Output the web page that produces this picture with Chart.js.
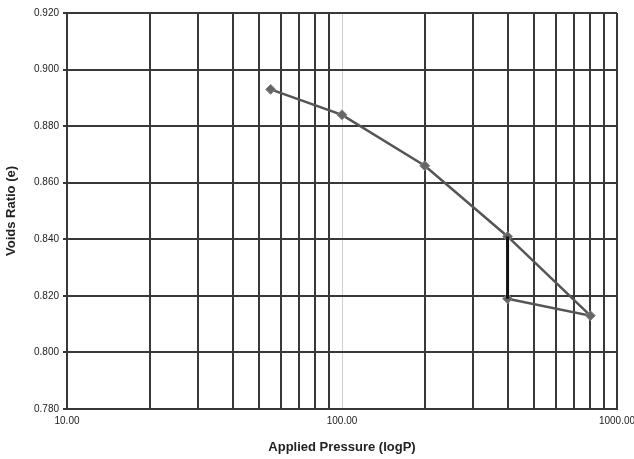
<!DOCTYPE html>
<html>
<head>
<meta charset="utf-8">
<script src="https://cdn.jsdelivr.net/npm/chart.js@4/dist/chart.umd.min.js"></script>
<style>
    html, body { margin: 0; padding: 0; background: #fff; }
    #wrap { width: 634px; height: 459px; }
</style>
</head>
<body>
<div id="wrap"><canvas id="c" width="634" height="459"></canvas></div>
<script>
// consolidation test: pressure (log) vs voids ratio
const pressure = [55, 100, 200, 400, 800, 400];
const voidsRatio = [0.893, 0.884, 0.866, 0.841, 0.813, 0.819];

// vertical step at 400
const stepPressure = [400, 400];
const stepRatio = [0.841, 0.819];

const xGridValues = [10, 20, 30, 40, 50, 60, 70, 80, 90, 100, 200, 300, 400, 500, 600, 700, 800, 900, 1000];
const xLabelValues = [10, 100, 1000];
const yMin = 0.78, yMax = 0.92, yStep = 0.02;

const mainPoints = pressure.map((p, i) => ({ x: p, y: voidsRatio[i] }));
const stepPoints = stepPressure.map((p, i) => ({ x: p, y: stepRatio[i] }));

const lightLine = c => c.tick && (c.tick.value === 10 || c.tick.value === 100);

const ctx = document.getElementById('c').getContext('2d');
new Chart(ctx, {
    type: 'scatter',
    data: {
        datasets: [
            {
                data: stepPoints,
                showLine: true,
                borderColor: '#111',
                borderWidth: 3,
                pointRadius: 0
            },
            {
                data: mainPoints,
                showLine: true,
                borderColor: '#555',
                borderWidth: 2.5,
                pointStyle: 'rectRot',
                pointRadius: 5,
                pointBackgroundColor: '#666',
                pointBorderColor: '#888',
                pointBorderWidth: 1
            }
        ]
    },
    options: {
        responsive: false,
        animation: false,
        layout: { padding: { top: 13, right: 17, left: 0, bottom: 0 } },
        plugins: {
            legend: { display: false },
            tooltip: { enabled: false }
        },
        scales: {
            x: {
                type: 'logarithmic',
                min: 10,
                max: 1000,
                afterBuildTicks: axis => {
                    axis.ticks = xGridValues.map(v => ({ value: v }));
                },
                afterFit: axis => {
                    axis.height = 50;
                    axis.paddingRight = 0; // let 1000.00 run off the edge like the original
                },
                ticks: {
                    autoSkip: false,
                    maxRotation: 0,
                    padding: 6,
                    color: '#222',
                    font: { family: 'Liberation Sans', size: 10 },
                    callback: v => xLabelValues.includes(v) ? v.toFixed(2) : ''
                },
                grid: {
                    drawTicks: false,
                    color: c => lightLine(c) ? '#cfcfcf' : '#383838',
                    lineWidth: c => lightLine(c) ? 1 : 2
                },
                border: { color: '#383838', width: 2 },
                title: {
                    display: true,
                    text: 'Applied Pressure (logP)',
                    color: '#222',
                    font: { family: 'Liberation Sans', size: 13, weight: 'bold' },
                    padding: { top: 10 }
                }
            },
            y: {
                min: yMin,
                max: yMax,
                afterFit: axis => { axis.width = 67; },
                ticks: {
                    stepSize: yStep,
                    padding: 4,
                    color: '#222',
                    font: { family: 'Liberation Sans', size: 10 },
                    callback: v => v.toFixed(3)
                },
                grid: {
                    color: '#383838',
                    lineWidth: 2,
                    tickLength: 4
                },
                border: { color: '#383838', width: 2 },
                title: {
                    display: true,
                    text: 'Voids Ratio (e)',
                    color: '#222',
                    font: { family: 'Liberation Sans', size: 13, weight: 'bold' },
                    padding: { bottom: 2 }
                }
            }
        }
    }
});
</script>
</body>
</html>
